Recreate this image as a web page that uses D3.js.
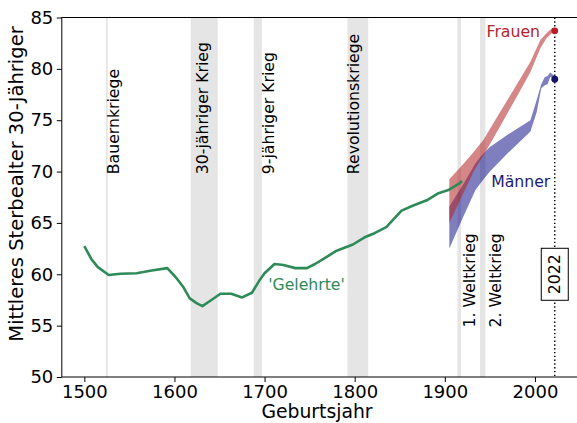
<!DOCTYPE html>
<html>
<head>
<meta charset="utf-8">
<script src="https://cdn.jsdelivr.net/npm/d3@7"></script>
<style>
  html, body { margin: 0; padding: 0; background: #fff; }
  svg { display: block; font-family: "DejaVu Sans", sans-serif; }
</style>
</head>
<body>
<svg id="chart" width="577" height="423"></svg>
<script>
// ---------------- data ----------------
const gelehrteYears  = [1500,1508,1515,1527,1540,1558,1573,1592,1601,1610,1617,1625,1631,1641,1651,1663,1675,1686,1695,1700,1711,1721,1734,1747,1756,1769,1780,1798,1811,1822,1835,1852,1865,1880,1893,1904,1917,1919];
const gelehrteValues = [62.75,61.45,60.7,59.93,60.05,60.1,60.35,60.6,59.76,58.73,57.66,57.17,56.9,57.5,58.1,58.1,57.75,58.2,59.5,60.1,61.0,60.9,60.6,60.6,61.0,61.7,62.3,62.9,63.6,64.0,64.6,66.2,66.7,67.2,67.9,68.2,68.9,69.1];

const frauenYears = [1905,1920,1932,1943,1960,1980,1995,2006,2013,2019,2022];
const frauenUpper = [69.25,70.7,71.9,73.1,75.6,78.5,80.7,82.8,83.5,83.95,83.8];
const frauenLower = [65.0,67.8,70.0,71.6,74.2,77.3,79.7,82.0,83.0,83.5,83.6];

const maennerYears = [1905,1920,1934,1940,1950,1970,1995,2002,2007,2011,2014,2017,2022];
const maennerUpper = [66.6,68.7,70.8,71.5,72.4,73.6,75.0,77.0,78.5,79.2,79.3,79.65,79.3];
const maennerLower = [62.5,65.5,68.2,68.9,70.0,71.8,73.9,75.8,78.1,78.4,78.5,79.2,79.0];

const endYear = 2022;
const frauenEnd = 83.7;
const maennerEnd = 79.0;

const warNames = ["Bauernkriege","30-jähriger Krieg","9-jähriger Krieg","Revolutionskriege","1. Weltkrieg","2. Weltkrieg"];
const warStart = [1524,1618,1688,1792,1914,1939];
const warEnd   = [1526,1648,1697,1815,1918,1945];

const xTicks = [1500,1600,1700,1800,1900,2000];
const yTicks = [50,55,60,65,70,75,80,85];

// ---------------- layout ----------------
const svg = d3.select("#chart");
const x = d3.scaleLinear().domain([1475, 2050]).range([61.8, 580]);
const y = d3.scaleLinear().domain([50, 85]).range([377, 17.5]);

const fsTick = 18, fsLabel = 18.8, fsIn = 15.7;

// war bands
const bands = warNames.map((n, i) => ({name: n, s: warStart[i], e: warEnd[i]}));
svg.append("g").selectAll("rect").data(bands).join("rect")
  .attr("x", d => x(d.s))
  .attr("width", d => x(d.e) - x(d.s))
  .attr("y", y(85)).attr("height", y(50) - y(85))
  .attr("fill", "#e5e5e5");

// war labels (rotated), baseline positions relative to bands
const labelCfg = [
  {x: x(1526) + 11.7, start: y(69.75), anchor: "start"},
  {x: x(1633) + 4,    start: y(69.75), anchor: "start"},
  {x: x(1697) + 11.8, start: y(69.75), anchor: "start"},
  {x: x(1800) + 4.5,  start: y(69.75), anchor: "start"},
  {x: x(1920) + 11.7, start: y(64),    anchor: "end"},
  {x: x(1945) + 15.2, start: y(64),    anchor: "end"}
];
svg.append("g").selectAll("text").data(bands).join("text")
  .attr("transform", (d, i) => `translate(${labelCfg[i].x},${labelCfg[i].start}) rotate(-90)`)
  .attr("text-anchor", (d, i) => labelCfg[i].anchor)
  .attr("font-size", fsIn)
  .attr("fill", "#000")
  .text(d => d.name);

// bands for Männer and Frauen
const mData = maennerYears.map((yr, i) => ({yr, lo: maennerLower[i], hi: maennerUpper[i]}));
const fData = frauenYears.map((yr, i) => ({yr, lo: frauenLower[i], hi: frauenUpper[i]}));
const area = d3.area().x(d => x(d.yr)).y0(d => y(d.lo)).y1(d => y(d.hi));
svg.append("path").datum(mData).attr("d", area)
  .attr("fill", "navy").attr("fill-opacity", 0.5);
svg.append("path").datum(fData).attr("d", area)
  .attr("fill", "firebrick").attr("fill-opacity", 0.55);

// Gelehrte line
const gData = gelehrteYears.map((yr, i) => ({yr, v: gelehrteValues[i]}));
svg.append("path").datum(gData)
  .attr("d", d3.line().x(d => x(d.yr)).y(d => y(d.v)))
  .attr("fill", "none").attr("stroke", "#2e8b57").attr("stroke-width", 2.6)
  .attr("stroke-linejoin", "round");

// 2022 dotted line
svg.append("line")
  .attr("x1", x(endYear)).attr("x2", x(endYear))
  .attr("y1", y(85)).attr("y2", y(50))
  .attr("stroke", "#000").attr("stroke-width", 1.4)
  .attr("stroke-dasharray", "1.4,2.4");

// end dots
svg.append("circle").attr("cx", x(endYear)).attr("cy", y(frauenEnd)).attr("r", 3.4).attr("fill", "#b81c22");
svg.append("circle").attr("cx", x(endYear)).attr("cy", y(maennerEnd)).attr("r", 3.4).attr("fill", "#141466");

// 2022 box
const boxG = svg.append("g").attr("transform", `translate(${x(endYear)},${y(60)}) rotate(-90)`);
boxG.append("rect").attr("x", -26).attr("y", -13.5).attr("width", 52).attr("height", 27)
  .attr("fill", "#fff").attr("stroke", "#000").attr("stroke-width", 1);
boxG.append("text").attr("text-anchor", "middle").attr("dy", "0.36em")
  .attr("font-size", fsIn).text(String(endYear));

// series labels
svg.append("text").attr("x", 486.5).attr("y", y(83.1)).attr("font-size", fsIn)
  .attr("fill", "#b5232a").text("Frauen");
svg.append("text").attr("x", 491.2).attr("y", y(68.5)).attr("font-size", fsIn)
  .attr("fill", "#1c1c72").text("Männer");
svg.append("text").attr("x", x(1704)).attr("y", y(58.45)).attr("font-size", fsIn)
  .attr("fill", "#2e8b57").text("'Gelehrte'");

// frame
svg.append("rect").attr("x", x(1475)).attr("y", y(85))
  .attr("width", x(2050) - x(1475)).attr("height", y(50) - y(85))
  .attr("fill", "none").attr("stroke", "#000").attr("stroke-width", 1);

// axes
const xAxis = svg.append("g").attr("transform", `translate(0,${y(50)})`)
  .call(d3.axisBottom(x).tickValues(xTicks).tickFormat(d3.format("d")).tickSize(5).tickPadding(3.5));
const yAxis = svg.append("g").attr("transform", `translate(${x(1475)},0)`)
  .call(d3.axisLeft(y).tickValues(yTicks).tickSize(5).tickPadding(3.5));
[xAxis, yAxis].forEach(a => {
  a.select(".domain").remove();
  a.selectAll("text").attr("font-size", fsTick).attr("font-family", "DejaVu Sans").attr("fill", "#000");
  a.selectAll("line").attr("stroke", "#000");
});

// axis titles
svg.append("text").attr("x", 317).attr("y", 418).attr("text-anchor", "middle")
  .attr("font-size", fsLabel).text("Geburtsjahr");
svg.append("text").attr("transform", "translate(23,184) rotate(-90)").attr("text-anchor", "middle")
  .attr("font-size", 19.5).text("Mittleres Sterbealter 30-Jähriger");
</script>
</body>
</html>
